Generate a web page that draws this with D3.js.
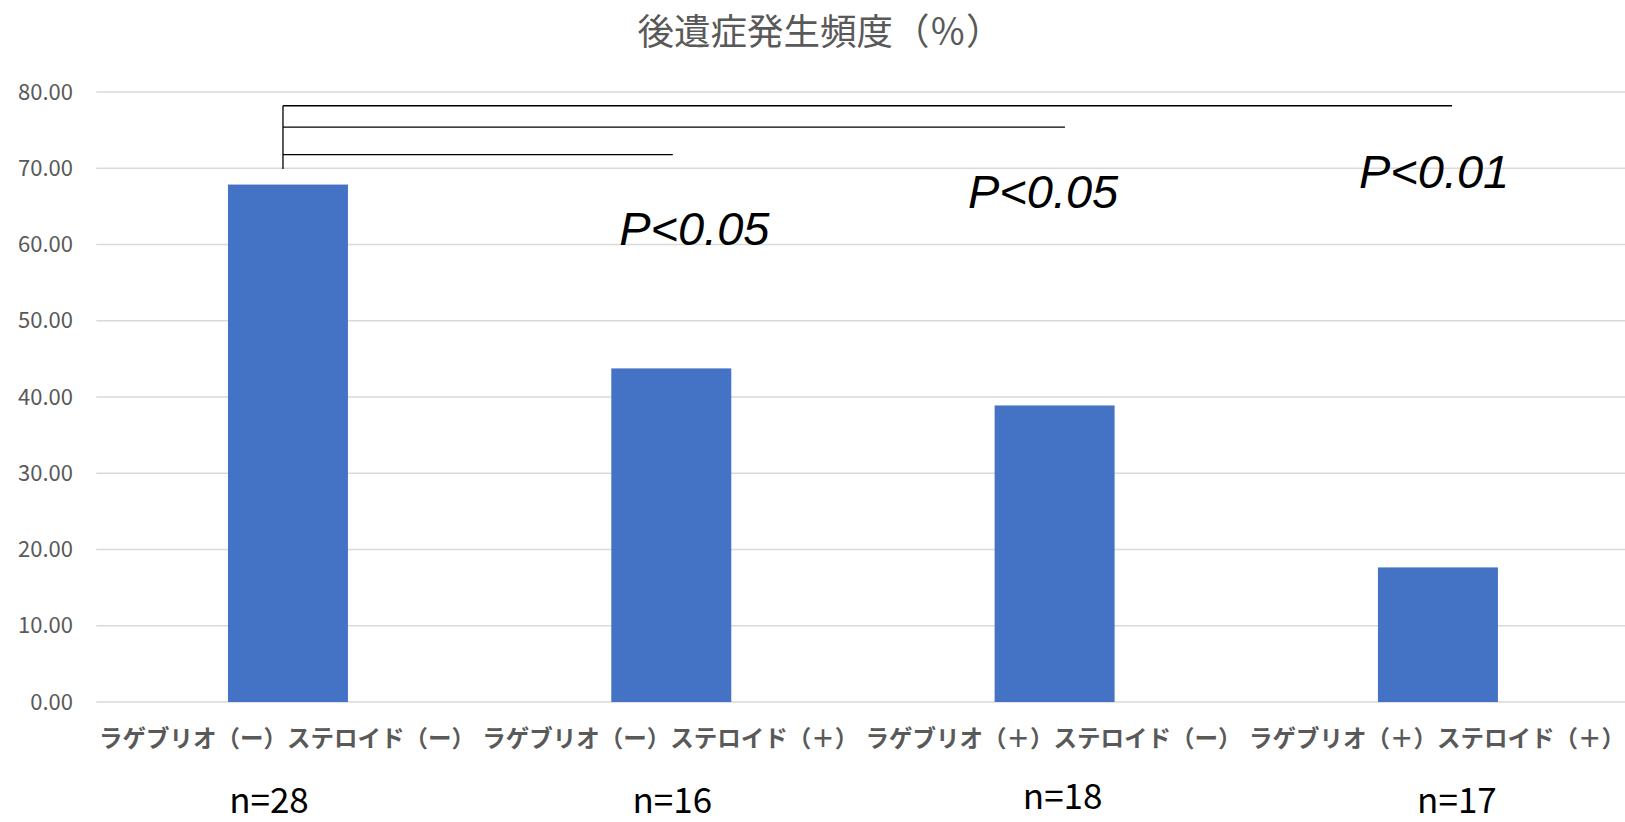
<!DOCTYPE html>
<html>
<head>
<meta charset="utf-8">
<script src="https://cdn.jsdelivr.net/npm/d3@7"></script>
<style>
  html, body { margin: 0; padding: 0; background: #fff; }
  svg { display: block; }
</style>
</head>
<body>
<svg id="chart" width="1625" height="822"></svg>
<script>
// ---- data ----
const title = "後遺症発生頻度（％）";
const categories = [
  "ラゲブリオ（ー）ステロイド（ー）",
  "ラゲブリオ（ー）ステロイド（＋）",
  "ラゲブリオ（＋）ステロイド（ー）",
  "ラゲブリオ（＋）ステロイド（＋）"
];
const values = [67.86, 43.75, 38.89, 17.65];
const nLabels = ["n=28", "n=16", "n=18", "n=17"];
const yTicks = [0, 10, 20, 30, 40, 50, 60, 70, 80];
// significance brackets: compare group 0 with group "to"
const brackets = [
  { to: 1, level: 71.8, label: "P<0.05", labelLevel: 59.9 },
  { to: 2, level: 75.4, label: "P<0.05", labelLevel: 64.8 },
  { to: 3, level: 78.2, label: "P<0.01", labelLevel: 67.4 }
];

(function () {
// ---- layout ----
const svg = d3.select("#chart");
const plotLeft = 96.3, plotRight = 1629.6, plotTop = 92, plotBottom = 702;

const x = d3.scaleBand()
  .domain(d3.range(categories.length))
  .range([plotLeft, plotRight])
  .paddingInner(0.687)
  .paddingOuter(0.3435);
const cx = i => x(i) + x.bandwidth() / 2;
const xi = d3.scaleLinear().domain([0, categories.length - 1])
  .range([cx(0), cx(categories.length - 1)]);

const y = d3.scaleLinear().domain([0, 80]).range([plotBottom, plotTop]);

const gray = "#595959";

// gridlines
svg.append("g")
  .selectAll("line")
  .data(yTicks)
  .join("line")
  .attr("x1", plotLeft).attr("x2", plotRight)
  .attr("y1", d => y(d)).attr("y2", d => y(d))
  .attr("stroke", "#d9d9d9")
  .attr("stroke-width", 1.5);

// y axis labels
const yAxis = d3.axisLeft(y).tickValues(yTicks).tickFormat(d3.format(".2f")).tickSize(0).tickPadding(0);
const gy = svg.append("g").attr("transform", "translate(73,0)").call(yAxis);
gy.select(".domain").remove();
gy.selectAll("text")
  .attr("fill", gray)
  .style("font-family", "'Noto Sans CJK JP', 'Noto Sans', sans-serif")
  .style("font-size", "22px");

// bars
svg.append("g")
  .selectAll("rect")
  .data(values)
  .join("rect")
  .attr("x", (d, i) => x(i))
  .attr("width", x.bandwidth())
  .attr("y", d => y(d))
  .attr("height", d => y(0) - y(d))
  .attr("fill", "#4472C4");

// category labels
svg.append("g")
  .selectAll("text")
  .data(categories)
  .join("text")
  .attr("x", (d, i) => cx(i) - 1)
  .attr("y", 737)
  .attr("text-anchor", "middle")
  .attr("dominant-baseline", "central")
  .attr("fill", gray)
  .style("font-family", "'Noto Sans CJK JP', sans-serif")
  .style("font-weight", "700")
  .style("font-size", "23.5px")
  .text(d => d);

// n labels
const nShift = [-19, 1, 8, 19];
const nBase = [813, 813, 809, 813];
svg.append("g")
  .selectAll("text")
  .data(nLabels)
  .join("text")
  .attr("x", (d, i) => cx(i) + nShift[i])
  .attr("y", (d, i) => nBase[i])
  .attr("text-anchor", "middle")
  .attr("fill", "#000")
  .style("font-family", "'Noto Sans CJK JP', sans-serif")
  .style("font-size", "35px")
  .text(d => d);

// title
svg.append("text")
  .attr("x", 820)
  .attr("y", 29)
  .attr("text-anchor", "middle")
  .attr("dominant-baseline", "central")
  .attr("fill", gray)
  .style("font-family", "'Noto Sans CJK JP', sans-serif")
  .style("font-size", "36.5px")
  .text(title);

// brackets
const bStart = -0.013;
const bEnd = [1.004, 2.027, 3.037];
const bg = svg.append("g").attr("stroke", "#000").attr("stroke-width", 1.3).attr("fill", "none");
bg.append("line")
  .attr("x1", xi(bStart)).attr("x2", xi(bStart))
  .attr("y1", y(69.9)).attr("y2", y(d3.max(brackets, b => b.level)));
bg.selectAll("line.h")
  .data(brackets)
  .join("line")
  .attr("class", "h")
  .attr("x1", xi(bStart))
  .attr("x2", (d, i) => xi(bEnd[i]))
  .attr("y1", d => y(d.level))
  .attr("y2", d => y(d.level));

// p-value labels
const pShift = [0.06, -0.03, -0.01];
svg.append("g")
  .selectAll("text")
  .data(brackets)
  .join("text")
  .attr("x", (d, i) => xi(d.to + pShift[i]))
  .attr("y", d => y(d.labelLevel))
  .attr("text-anchor", "middle")
  .attr("fill", "#000")
  .style("font-family", "'Liberation Sans', Arial, sans-serif")
  .style("font-style", "italic")
  .style("font-size", "47px")
  .text(d => d.label);
})();
</script>
</body>
</html>
